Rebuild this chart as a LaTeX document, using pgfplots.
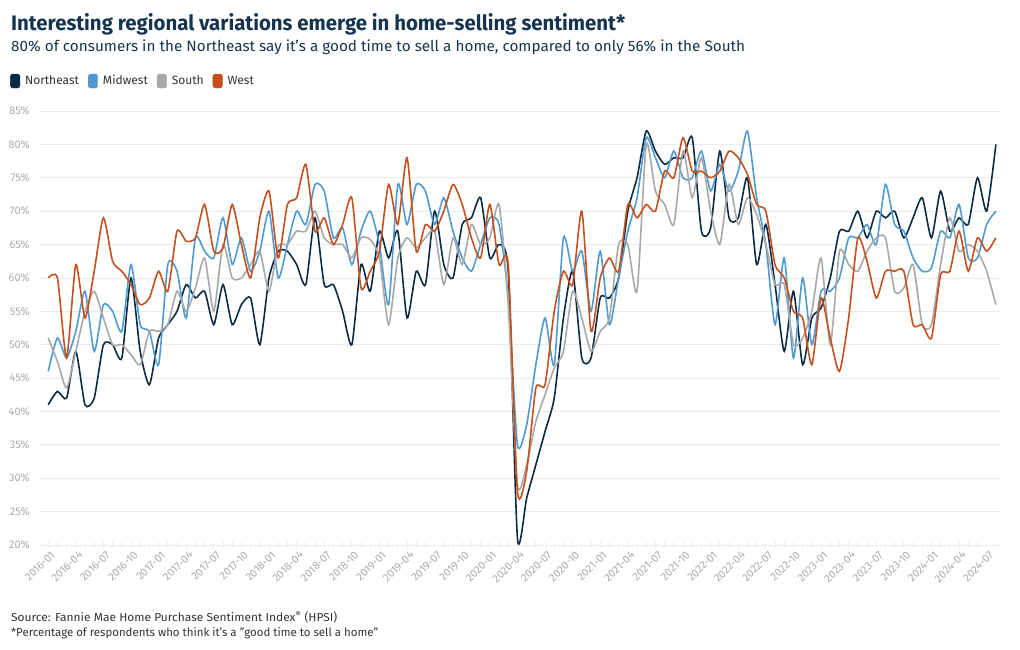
\documentclass[border=0pt]{standalone}
\usepackage{fontspec}
\setmainfont{Fira Sans}
\usepackage{graphicx}
\usepackage{pgfplots}
\pgfplotsset{compat=1.18}
\usepackage{pgfplotstable}
\definecolor{ne}{HTML}{0B2B45}
\definecolor{mw}{HTML}{4F9AD2}
\definecolor{so}{HTML}{A8A8A8}
\definecolor{we}{HTML}{C5501E}
\definecolor{ttl}{HTML}{163450}
\definecolor{lbl}{HTML}{ABABAB}
\definecolor{grd}{HTML}{EBEBEB}
\definecolor{txt}{HTML}{333333}
\pgfplotstableread{
m ne mw so we
0 41 46 51 60
1 43 51 47.5 60
2 42 48 43.5 48
3 49 52 49 62
4 41 58 55 54
5 42 49 58 61
6 50 56 54 69
7 50 55 50 62.5
8 48 52 50 61
9 60 62 48.5 59
10 49 53 47 56
11 44 52 52 57
12 51 47 52 61
13 53 62 53 58
14 55 61 58 67
15 59 54 55 65.5
16 57 66 58.5 66
17 58 64 63 71
18 53 63 55 64
19 59 69 65 64.5
20 53 62 60 71
21 56 66 60 65
22 57 61 62 60
23 50 64 64 69
24 60 70 58 73
25 64 60 64.75 63
26 64 65 65 71
27 62 70 67 72
28 59 68 67 77
29 69 74 70 67
30 59 73 66 69
31 59 66 65 65
32 55 67.5 65 68
33 50 62 63 72
34 62 67 66 58.5
35 58 70 65.75 61
36 67 65 63 64
37 63 56 53 74
38 67 74 63 68
39 54 68 66 78
40 61 74 64.5 64
41 59 73 66 68
42 70 68 67 67
43 62 72 59 70
44 60 67 66 74
45 68 63 62 71
46 69 61 68 66
47 72 65 65 63
48 63 69 66 71
49 65 68 71 62
50 61 57 56 62
51 21 35 29 28
52 27 38 32 31
53 32 47 38.5 43.5
54 37 54 42.5 44
55 42 47 46.5 55
56 54 66 49 61
57 61 61 58 59
58 48 64 54 70
59 48 55 49 52
60 57 64 52 60
61 57 53 54 63
62 60 60 65 61
63 70 67 65 71
64 75 72 58 69
65 82 81 80 71
66 79 78 73 70
67 77 75 71 76
68 78 79 68 75
69 78 75 79 81
70 81 75 72 76
71 67 79 78 76
72 67.5 73 70 75
73 79 77 65 76
74 69 73 74 79
75 69 76 68 78
76 75 82 72 75.5
77 62 72 69.5 71
78 68 65 65 70
79 59 53 59 62
80 49 63 59 60
81 58 48 50 55
82 47 60 51 54
83 54 50 55 47
84 55.5 58 63 57
85 60 58 50 51
86 67 60 64 46
87 67 66 62 54
88 70 66 61 66
89 66 68 64 62.5
90 70 65 66 57
91 69 74 66 61
92 70 68 58 61
93 66 67 58.5 61
94 69 63 62 53
95 72 61 53 53
96 66 61.5 53 51
97 73 67 62 60.5
98 67 66 69 61
99 69 71 64 67
100 68 63 65 61
101 75 63 64 66
102 70 68 61 64
103 80 70 56 66
}\hpsi
\begin{document}
\begin{tikzpicture}
\path[use as bounding box] (0pt,0pt) rectangle (1020pt,650pt);
\node[anchor=base west, inner sep=0, text=ttl] at (11pt,619pt) {\resizebox{614pt}{\height}{\fontsize{21}{25}\selectfont\bfseries Interesting regional variations emerge in home-selling sentiment*}};
\node[anchor=base west, inner sep=0, text=ttl] at (11pt,598pt) {\resizebox{734pt}{\height}{\fontsize{15}{18}\selectfont 80\% of consumers in the Northeast say it's a good time to sell a home, compared to only 56\% in the South}};
\node[anchor=base west, inner sep=0, text=txt] at (11pt,28pt) {\resizebox{326pt}{\height}{\fontsize{11.5}{14}\selectfont Source: Fannie Mae Home Purchase Sentiment Index\textsuperscript{®} (HPSI)}};
\node[anchor=base west, inner sep=0, text=txt] at (11pt,13pt) {\resizebox{367pt}{\height}{\fontsize{11.5}{14}\selectfont *Percentage of respondents who think it's a "good time to sell a home"}};
\begin{axis}[
  name=ax,
  at={(39pt,105pt)}, anchor=south west,
  width=961pt, height=434pt, scale only axis,
  xmin=-1, xmax=103.45, ymin=20, ymax=85,
  axis x line*=bottom, axis y line*=left,
  x axis line style={draw=grd, line width=0.8pt},
  y axis line style={draw=none},
  xtick={0,3,...,102},
  xticklabels={2016-01,2016-04,2016-07,2016-10,2017-01,2017-04,2017-07,2017-10,2018-01,2018-04,2018-07,2018-10,2019-01,2019-04,2019-07,2019-10,2020-01,2020-04,2020-07,2020-10,2021-01,2021-04,2021-07,2021-10,2022-01,2022-04,2022-07,2022-10,2023-01,2023-04,2023-07,2023-10,2024-01,2024-04,2024-07},
  minor x tick num=2,
  x tick style={draw=grd, line width=0.8pt},
  major tick length=6pt, minor tick length=6pt, tick align=center,
  ytick={20,25,...,85},
  yticklabels={20\%,25\%,30\%,35\%,40\%,45\%,50\%,55\%,60\%,65\%,70\%,75\%,80\%,85\%},
  y tick style={draw=none},
  ymajorgrids, grid style={draw=grd, line width=0.8pt},
  x tick label style={rotate=45, anchor=north east, text=lbl, font=\fontsize{11}{13}\selectfont, inner sep=0pt, yshift=-3pt},
  y tick label style={text=lbl, font=\fontsize{11}{13}\selectfont, inner sep=0pt, xshift=-6pt},
  legend columns=-1,
  legend style={at={(axis description cs:-0.0302,1.0691)}, anchor=west, draw=none, fill=none, inner sep=0pt,
    font=\fontsize{12}{15}\selectfont, text=txt,
    /tikz/every odd column/.append style={column sep=3pt},
    /tikz/every even column/.append style={column sep=7pt}},
  legend cell align=left,
]
\addlegendimage{ne, legend image code/.code={\fill[rounded corners=2.5pt] (0pt,-7pt) rectangle (9.5pt,7pt);}}
\addlegendentry{Northeast}
\addlegendimage{mw, legend image code/.code={\fill[rounded corners=2.5pt] (0pt,-7pt) rectangle (9.5pt,7pt);}}
\addlegendentry{Midwest}
\addlegendimage{so, legend image code/.code={\fill[rounded corners=2.5pt] (0pt,-7pt) rectangle (9.5pt,7pt);}}
\addlegendentry{South}
\addlegendimage{we, legend image code/.code={\fill[rounded corners=2.5pt] (0pt,-7pt) rectangle (9.5pt,7pt);}}
\addlegendentry{West}
\addplot[ne, line width=1.6pt, smooth, tension=0.38, forget plot] table[x=m,y=ne]{\hpsi};
\addplot[mw, line width=1.6pt, smooth, tension=0.38, forget plot] table[x=m,y=mw]{\hpsi};
\addplot[so, line width=1.6pt, smooth, tension=0.38, forget plot] table[x=m,y=so]{\hpsi};
\addplot[we, line width=1.6pt, smooth, tension=0.38, forget plot] table[x=m,y=we]{\hpsi};
\end{axis}
\end{tikzpicture}
\end{document}
